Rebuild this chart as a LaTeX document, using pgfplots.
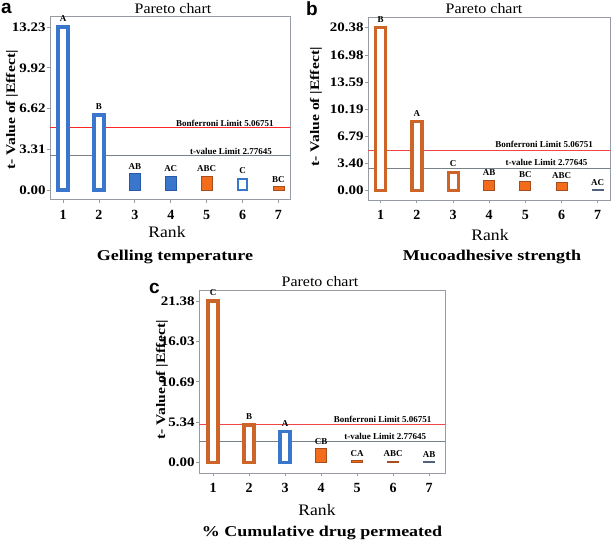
\documentclass[border=0pt]{standalone}
\usepackage{fontspec}
\setmainfont{Liberation Serif}
\setsansfont{Liberation Sans}
\usepackage{pgfplots}
\pgfplotsset{compat=1.18}
\definecolor{blueC}{RGB}{58,118,204}
\definecolor{blueE}{RGB}{40,88,168}
\definecolor{orangeC}{RGB}{242,108,28}
\definecolor{orangeE}{RGB}{165,78,32}
\definecolor{orangeO}{RGB}{205,100,40}
\definecolor{greyblue}{RGB}{80,98,128}
\definecolor{redL}{RGB}{240,70,70}
\definecolor{greyL}{RGB}{120,130,136}
\definecolor{frameC}{RGB}{150,156,162}
\pgfplotsset{
  pareto/.style={
    scale only axis, clip=true,
    axis line style={draw=frameC, line width=1pt},
    tick style={draw=frameC, line width=0.8pt},
    tick align=outside, major tick length=3pt,
    xtick pos=bottom, ytick pos=left,
    xtick={1,...,7}, xticklabels={1,2,3,4,5,6,7},
    xticklabel shift=4pt,
    xticklabel style={font=\fontsize{14}{14}\selectfont\bfseries},
    yticklabel style={font=\fontsize{13}{13}\selectfont\bfseries, xscale=1.15, inner sep=1pt},
    nodes near coords style={font=\fontsize{9}{9}\selectfont\bfseries, black, yshift=0.5pt},
  },
  openB/.style={ybar, bar shift=0pt, bar width=10pt, draw=blueC, line width=3.5pt, fill=white},
  openO/.style={ybar, bar shift=0pt, bar width=10pt, draw=orangeO, line width=3.5pt, fill=white},
  fillB/.style={ybar, bar shift=0pt, bar width=11pt, draw=blueE, line width=0.8pt, fill=blueC},
  fillO/.style={ybar, bar shift=0pt, bar width=11pt, draw=orangeE, line width=0.8pt, fill=orangeC},
  fillG/.style={ybar, bar shift=0pt, bar width=11pt, draw=greyblue, line width=0.8pt, fill=greyblue},
  bonf/.style={color=redL, line width=1.3pt, forget plot},
  tval/.style={color=greyL, line width=1.1pt, forget plot},
}
\tikzset{
  limlab/.style={font=\fontsize{9}{9}\selectfont\bfseries, inner sep=1pt},
  ttltxt/.style={font=\fontsize{14.5}{14.5}\selectfont, xscale=1.1},
  rnktxt/.style={font=\fontsize{16}{16}\selectfont, xscale=1.1},
  captxt/.style={font=\fontsize{15}{15}\selectfont\bfseries, xscale=1.2},
  ylabtxt/.style={font=\fontsize{13}{13}\selectfont\bfseries, rotate=90, xscale=1.2},
  plabtxt/.style={font=\sffamily\bfseries\fontsize{19}{19}\selectfont, inner sep=0pt, anchor=base west, text depth=0pt},
}
\begin{document}
\begin{tikzpicture}
\path[use as bounding box] (0pt,0pt) rectangle (614pt,-543pt);
% ---------------- panel a
\begin{axis}[pareto, at={(50pt,-200pt)}, anchor=south west,
  width=240.5pt, height=183.3pt,
  xmin=0.637, xmax=7.335, ymin=-0.81, ymax=14.07,
  ytick={0,3.31,6.62,9.92,13.23}, yticklabels={0.00,3.31,6.62,9.92,13.23}]
\addplot[tval] coordinates {(0,2.77645) (8,2.77645)};
\addplot[color=red!85!white, line width=1.6pt, forget plot] coordinates {(0,5.06751) (8,5.06751)};
\addplot[openB, nodes near coords={A}] coordinates {(1,13.23)};
\addplot[openB, nodes near coords={B}] coordinates {(2,6.08)};
\addplot[fillB, nodes near coords={AB}] coordinates {(3,1.35)};
\addplot[fillB, nodes near coords={AC}] coordinates {(4,1.12)};
\addplot[fillO, nodes near coords={ABC}] coordinates {(5,1.12)};
\addplot[openB, line width=2.8pt, bar width=9pt, nodes near coords={C}] coordinates {(6,0.9)};
\addplot[fillO, nodes near coords={BC}] coordinates {(7,0.3)};
\node[limlab, anchor=south east] at (axis cs:6.9,5.07) {Bonferroni Limit 5.06751};
\node[limlab, anchor=south east] at (axis cs:6.85,2.78) {t-value Limit 2.77645};
\end{axis}
\node[ttltxt] at (173pt,-8.5pt) {Pareto chart};
\node[rnktxt] at (167pt,-232pt) {Rank};
\node[captxt] at (175pt,-257pt) {Gelling temperature};
\node[ylabtxt] at (12pt,-110pt) {t- Value of |Effect|};
\node[plabtxt, text height=10pt] at (1pt,-14pt) {a};
% ---------------- panel b
\begin{axis}[pareto, at={(368pt,-200pt)}, anchor=south west,
  width=242.7pt, height=183pt,
  xmin=0.649, xmax=7.36, ymin=-1.16, ymax=21.72,
  ytick={0,3.40,6.79,10.19,13.59,16.98,20.38}, yticklabels={0.00,3.40,6.79,10.19,13.59,16.98,20.38}]
\addplot[tval] coordinates {(0,2.77645) (8,2.77645)};
\addplot[bonf] coordinates {(0,5.06751) (8,5.06751)};
\addplot[openO, nodes near coords={B}] coordinates {(1,20.38)};
\addplot[openO, nodes near coords={A}] coordinates {(2,8.63)};
\addplot[openO, line width=3pt, nodes near coords={C}] coordinates {(3,2.3)};
\addplot[fillO, nodes near coords={AB}] coordinates {(4,1.33)};
\addplot[fillO, nodes near coords={BC}] coordinates {(5,1.13)};
\addplot[fillO, nodes near coords={ABC}] coordinates {(6,1.05)};
\addplot[fillG, line width=0.6pt, nodes near coords={AC}] coordinates {(7,0.12)};
\node[limlab, anchor=south east] at (axis cs:6.9,5.2) {Bonferroni Limit 5.06751};
\node[limlab, anchor=south east] at (axis cs:6.75,3.0) {t-value Limit 2.77645};
\end{axis}
\node[ttltxt] at (484pt,-9pt) {Pareto chart};
\node[rnktxt] at (490pt,-235pt) {Rank};
\node[captxt] at (492pt,-257pt) {Mucoadhesive strength};
\node[ylabtxt] at (316pt,-107pt) {t- Value of |Effect|};
\node[plabtxt, text height=14pt] at (306pt,-16pt) {b};
% ---------------- panel c
\begin{axis}[pareto, at={(199pt,-473pt)}, anchor=south west,
  width=246pt, height=183pt,
  xmin=0.611, xmax=7.444, ymin=-1.36, ymax=22.83,
  ytick={0,5.34,10.69,16.03,21.38}, yticklabels={0.00,5.34,10.69,16.03,21.38}]
\addplot[tval] coordinates {(0,2.77645) (8,2.77645)};
\addplot[bonf] coordinates {(0,5.06751) (8,5.06751)};
\addplot[openO, nodes near coords={C}] coordinates {(1,21.38)};
\addplot[openO, nodes near coords={B}] coordinates {(2,4.98)};
\addplot[openB, nodes near coords={A}] coordinates {(3,4.1)};
\addplot[fillO, nodes near coords={CB}] coordinates {(4,1.9)};
\addplot[fillO, line width=0.6pt, nodes near coords={CA}] coordinates {(5,0.28)};
\addplot[fillO, line width=0.6pt, nodes near coords={ABC}] coordinates {(6,0.22)};
\addplot[fillG, line width=0.6pt, nodes near coords={AB}] coordinates {(7,0.18)};
\node[limlab, anchor=south east] at (axis cs:7.1,5.2) {Bonferroni Limit 5.06751};
\node[limlab, anchor=south east] at (axis cs:6.95,2.95) {t-value Limit 2.77645};
\end{axis}
\node[ttltxt] at (320pt,-282pt) {Pareto chart};
\node[rnktxt] at (317pt,-510pt) {Rank};
\node[captxt] at (322pt,-533pt) {\% Cumulative drug permeated};
\node[ylabtxt] at (162pt,-380pt) {t- Value of |Effect|};
\node[plabtxt, text height=10pt] at (149pt,-293pt) {c};
\end{tikzpicture}
\end{document}
